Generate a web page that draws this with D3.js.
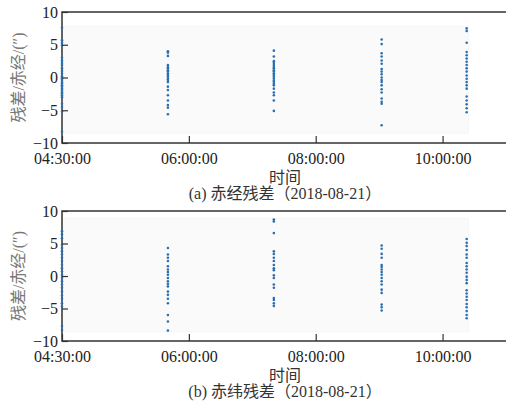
<!DOCTYPE html>
<html>
<head>
<meta charset="utf-8">
<script src="https://cdn.jsdelivr.net/npm/d3@7"></script>
<style>
  body { margin: 0; background: #fff; }
  svg { display: block; }
</style>
</head>
<body>
<script>
// observation epochs (hours of day) for the 5 passes
var obsHours = [4.0, 5.67, 7.34, 9.04, 10.38];

// right ascension residuals (arcsec), one list per pass
var raResid = [
  [7.6, 5.7, 5.3, 4.9, 3.0, 2.6, 2.2, 1.9, 1.4, 1.0, 0.6, 0.2, -0.1, -0.4, -0.7, -0.9, -1.2, -1.4, -1.7, -1.9, -2.2, -2.4, -2.7, -3.0, -4.0, -4.5, -5.2, -8.3],
  [4.0, 3.8, 3.3, 1.9, 1.6, 1.4, 1.1, 0.9, 0.6, 0.4, 0.1, -0.2, -0.4, -0.7, -1.4, -1.9, -2.7, -3.5, -4.2, -4.6, -5.6],
  [4.1, 3.2, 2.5, 2.2, 1.9, 1.6, 1.4, 1.1, 0.9, 0.6, 0.4, 0.1, -0.2, -0.5, -0.7, -1.0, -1.2, -1.7, -2.3, -2.7, -3.5, -5.1],
  [5.8, 5.1, 3.7, 3.2, 2.6, 2.1, 1.3, 0.9, 0.5, 0.0, -0.4, -0.7, -1.2, -1.8, -2.3, -3.2, -3.7, -4.0, -7.3],
  [7.5, 7.1, 5.3, 3.9, 3.4, 2.9, 2.4, 1.9, 1.4, 0.9, 0.3, -0.2, -0.7, -1.2, -1.7, -2.9, -3.5, -4.1, -4.7, -5.3]
];

// declination residuals (arcsec), one list per pass
var decResid = [
  [6.9, 6.4, 5.8, 4.8, 4.3, 3.8, 3.3, 2.8, 2.3, 1.7, 1.2, 0.7, 0.2, -0.3, -0.8, -1.3, -1.8, -2.4, -3.0, -3.5, -4.2, -4.7, -7.7, -8.3],
  [4.3, 3.3, 2.8, 2.3, 1.5, 1.0, 0.6, 0.2, -0.3, -0.8, -1.2, -1.6, -2.4, -2.9, -3.5, -4.2, -6.0, -7.0, -8.4],
  [8.7, 8.4, 6.6, 3.8, 3.4, 2.8, 2.3, 1.7, 1.2, 0.9, 0.1, -0.3, -1.3, -1.8, -3.4, -3.7, -4.2, -4.6],
  [4.7, 4.2, 3.4, 2.8, 1.7, 1.4, 1.0, 0.6, 0.2, -0.3, -0.8, -1.3, -2.1, -2.6, -4.4, -4.8, -5.3],
  [5.7, 5.1, 4.6, 4.0, 3.3, 2.8, 2.0, 1.5, 1.0, 0.5, -0.1, -0.6, -1.1, -2.2, -2.7, -3.2, -3.7, -4.3, -4.8, -5.4, -6.0, -6.5]
];

var xTickHours = [4, 6, 8, 10];
var xTickLabels = ["04:30:00", "06:00:00", "08:00:00", "10:00:00"];
var yTicks = [-10, -5, 0, 5, 10];

var yTitle = "残差/赤经/(″)";
var xTitle = "时间";
var captions = ["(a) 赤经残差（2018-08-21）", "(b) 赤纬残差（2018-08-21）"];

var W = 506, H = 403;
var serif = '"Liberation Serif", "Times New Roman", "Noto Sans CJK SC", serif';
var axisCol = "#333",
    dotCol = "#2a6fb0",
    bgCol = "#fafafa";

var svg = d3.select("body").append("svg")
    .attr("width", W)
    .attr("height", H);

var panels = [
  {data: raResid, top: 12, bottom: 143},
  {data: decResid, top: 211, bottom: 341}
];

var left = 62, right = 506;

var x = d3.scaleLinear()
    .domain([4, 11])
    .range([left, right]);

panels.forEach(function(p, pi) {
  var y = d3.scaleLinear()
      .domain([-10, 10])
      .range([p.bottom, p.top]);

  var g = svg.append("g");

  // flatten points
  var pts = [];
  p.data.forEach(function(col, ci) {
    col.forEach(function(v) { pts.push({t: obsHours[ci], v: v}); });
  });

  // light background of the data area
  var ext = d3.extent(pts, function(d) { return d.v; });
  g.append("rect")
      .attr("x", x(obsHours[0]))
      .attr("y", y(ext[1] + 0.2))
      .attr("width", x(obsHours[obsHours.length - 1] + 0.03) - x(obsHours[0]))
      .attr("height", y(ext[0] - 0.2) - y(ext[1] + 0.2))
      .attr("fill", bgCol)
      .attr("stroke", "#f0f0f0")
      .attr("stroke-width", 0.5);

  // frame (right side runs off the page)
  g.append("rect")
      .attr("x", left)
      .attr("y", p.top)
      .attr("width", right - left + 10)
      .attr("height", p.bottom - p.top)
      .attr("fill", "none")
      .attr("stroke", axisCol)
      .attr("stroke-width", 1.5);

  // points
  g.append("g").selectAll("circle")
      .data(pts)
      .join("circle")
      .attr("cx", function(d) { return x(d.t); })
      .attr("cy", function(d) { return y(d.v); })
      .attr("r", 1.3)
      .attr("fill", dotCol);

  // y axis, ticks inward
  var ya = g.append("g")
      .attr("transform", "translate(" + left + ",0)")
      .call(d3.axisLeft(y).tickValues(yTicks).tickSize(-6).tickPadding(4));
  ya.select(".domain").remove();
  ya.selectAll("line").attr("stroke", axisCol).attr("stroke-width", 1.2);
  ya.selectAll("text")
      .attr("font-family", serif)
      .attr("font-size", "16px")
      .attr("fill", "#222");

  // x axis, ticks inward
  var xa = g.append("g")
      .attr("transform", "translate(0," + p.bottom + ")")
      .call(d3.axisBottom(x).tickValues(xTickHours)
        .tickFormat(function(d, i) { return xTickLabels[i]; })
        .tickSize(-7).tickPadding(10));
  xa.select(".domain").remove();
  xa.selectAll("line").attr("stroke", axisCol).attr("stroke-width", 1.2);
  xa.selectAll("text")
      .attr("font-family", serif)
      .attr("font-size", "16px")
      .attr("fill", "#222");

  // y title
  g.append("text")
      .attr("transform", "translate(18," + ((p.top + p.bottom) / 2) + ") rotate(-90)")
      .attr("text-anchor", "middle")
      .attr("dominant-baseline", "central")
      .attr("font-family", serif)
      .attr("font-size", "16px")
      .attr("fill", "#777")
      .text(yTitle);

  // x title
  g.append("text")
      .attr("x", 285)
      .attr("y", p.bottom + 40)
      .attr("text-anchor", "middle")
      .attr("font-family", serif)
      .attr("font-size", "16px")
      .attr("fill", "#333")
      .text(xTitle);

  // caption
  g.append("text")
      .attr("x", 285)
      .attr("y", p.bottom + 56)
      .attr("text-anchor", "middle")
      .attr("font-family", serif)
      .attr("font-size", "16px")
      .attr("fill", "#333")
      .text(captions[pi]);
});
</script>
</body>
</html>
